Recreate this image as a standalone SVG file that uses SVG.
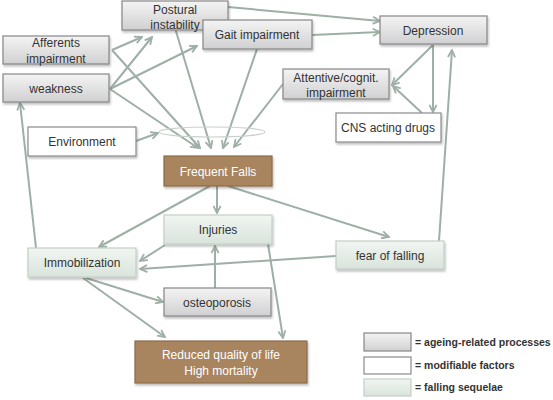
<svg xmlns="http://www.w3.org/2000/svg" width="553" height="400" viewBox="0 0 553 400">
<defs>
<linearGradient id="gGray" x1="0" y1="0" x2="0" y2="1"><stop offset="0" stop-color="#f4f4f4"/><stop offset="1" stop-color="#d0d0d2"/></linearGradient>
<linearGradient id="gSeq" x1="0" y1="0" x2="0" y2="1"><stop offset="0" stop-color="#f1f5f1"/><stop offset="1" stop-color="#d9e4dc"/></linearGradient>
<filter id="sh" x="-10%" y="-10%" width="130%" height="140%"><feDropShadow dx="1" dy="2" stdDeviation="1.2" flood-color="#000" flood-opacity="0.25"/></filter>
<marker id="ar" viewBox="0 0 10 10" refX="9" refY="5" markerWidth="9" markerHeight="9" markerUnits="userSpaceOnUse" orient="auto"><path d="M1,1 L9,5 L1,9" fill="none" stroke="#9eafa5" stroke-width="2"/></marker>
<style>
.c{fill:none;stroke:#9eafa5;stroke-width:2;marker-end:url(#ar)}
.gray{fill:url(#gGray);stroke:#868686;stroke-width:1.2;filter:url(#sh)}
.white{fill:#fff;stroke:#8a8a8a;stroke-width:1.2;filter:url(#sh)}
.seq{fill:url(#gSeq);stroke:#c3cfc6;stroke-width:1.2;filter:url(#sh)}
.brown{fill:#a8845f;stroke:#8a6a49;stroke-width:1.2;filter:url(#sh)}
.t{font-family:"Liberation Sans",Arial,sans-serif;font-size:12px;fill:#333;text-anchor:middle}
.tw{font-family:"Liberation Sans",Arial,sans-serif;font-size:12px;fill:#fff;text-anchor:middle}
.lg{font-family:"Liberation Sans",Arial,sans-serif;font-size:10.5px;font-weight:bold;fill:#333}
</style>
</defs>
<rect width="553" height="400" fill="#fff"/>
<g id="connectors">
<path class="c" d="M112,50 L142,37"/>
<path class="c" d="M112,50 L200,148"/>
<path class="c" d="M110,89 L152,37"/>
<path class="c" d="M110,89 L197,46"/>
<path class="c" d="M110,89 L198,148"/>
<path class="c" d="M175,28 L211,148"/>
<path class="c" d="M257,49 L223,148"/>
<path class="c" d="M283,84 L234,147"/>
<path class="c" d="M136,141 L158,133"/>
<path class="c" d="M228,7 L380,21"/>
<path class="c" d="M312,35 L380,32"/>
<path class="c" d="M433,45 L392,85"/>
<path class="c" d="M433,45 L433,112"/>
<path class="c" d="M422,113 L393,86"/>
<path class="c" d="M439,241 L452,50"/>
<path class="c" d="M36,248 L20,103"/>
<path class="c" d="M217,186 L217,213"/>
<path class="c" d="M210,186 L99,247"/>
<path class="c" d="M228,186 L389,237"/>
<path class="c" d="M165,245 L140,261"/>
<path class="c" d="M336,256 L140,269"/>
<path class="c" d="M215,288 L215,246"/>
<path class="c" d="M268,244 L283,338"/>
<path class="c" d="M86,278 L163,302"/>
<path class="c" d="M83,278 L165,337"/>
<ellipse cx="212" cy="132" rx="53" ry="5" fill="none" stroke="#c9d1cc" stroke-width="1.2"/>
</g>
<g id="postural"><rect class="gray" x="122" y="1" width="106" height="29"/><text class="t" x="175" y="14">Postural</text><text class="t" x="175" y="29">instability</text></g>
<g id="gait"><rect class="gray" x="203" y="20" width="109" height="29"/><text class="t" x="257" y="39">Gait impairment</text></g>
<g id="depression"><rect class="gray" x="380" y="16" width="107" height="28"/><text class="t" x="433" y="35">Depression</text></g>
<g id="afferents"><rect class="gray" x="3" y="36" width="106" height="28"/><text class="t" x="56" y="47">Afferents</text><text class="t" x="56" y="63">impairment</text></g>
<g id="weakness"><rect class="gray" x="3" y="74" width="106" height="28"/><text class="t" x="56" y="93">weakness</text></g>
<g id="attentive"><rect class="gray" x="283" y="69" width="106" height="30"/><text class="t" x="336" y="82">Attentive/cognit.</text><text class="t" x="336" y="97">impairment</text></g>
<g id="cns"><rect class="white" x="336" y="113" width="105" height="29"/><text class="t" x="388" y="132">CNS acting drugs</text></g>
<g id="environment"><rect class="white" x="28" y="127" width="108" height="29"/><text class="t" x="82" y="146">Environment</text></g>
<g id="falls"><rect class="brown" x="164" y="156" width="108" height="30"/><text class="tw" x="218" y="176">Frequent Falls</text></g>
<g id="injuries"><rect class="seq" x="164" y="215" width="108" height="29"/><text class="t" x="218" y="234">Injuries</text></g>
<g id="fear"><rect class="seq" x="336" y="241" width="108" height="28"/><text class="t" x="390" y="260">fear of falling</text></g>
<g id="immobilization"><rect class="seq" x="28" y="248" width="108" height="29"/><text class="t" x="82" y="267">Immobilization</text></g>
<g id="osteoporosis"><rect class="gray" x="164" y="288" width="107" height="28"/><text class="t" x="217" y="307">osteoporosis</text></g>
<g id="reduced"><rect class="brown" x="135" y="341" width="172" height="42"/><text class="tw" x="221" y="359">Reduced quality of life</text><text class="tw" x="221" y="375">High mortality</text></g>
<g id="legend">
<rect class="gray" x="364" y="333" width="47" height="18" style="filter:none"/><text class="lg" x="415" y="346">= ageing-related processes</text>
<rect class="white" x="364" y="357" width="47" height="17" style="filter:none"/><text class="lg" x="415" y="369">= modifiable factors</text>
<rect class="seq" x="364" y="379" width="47" height="17" style="filter:none"/><text class="lg" x="415" y="391">= falling sequelae</text>
</g>
</svg>
